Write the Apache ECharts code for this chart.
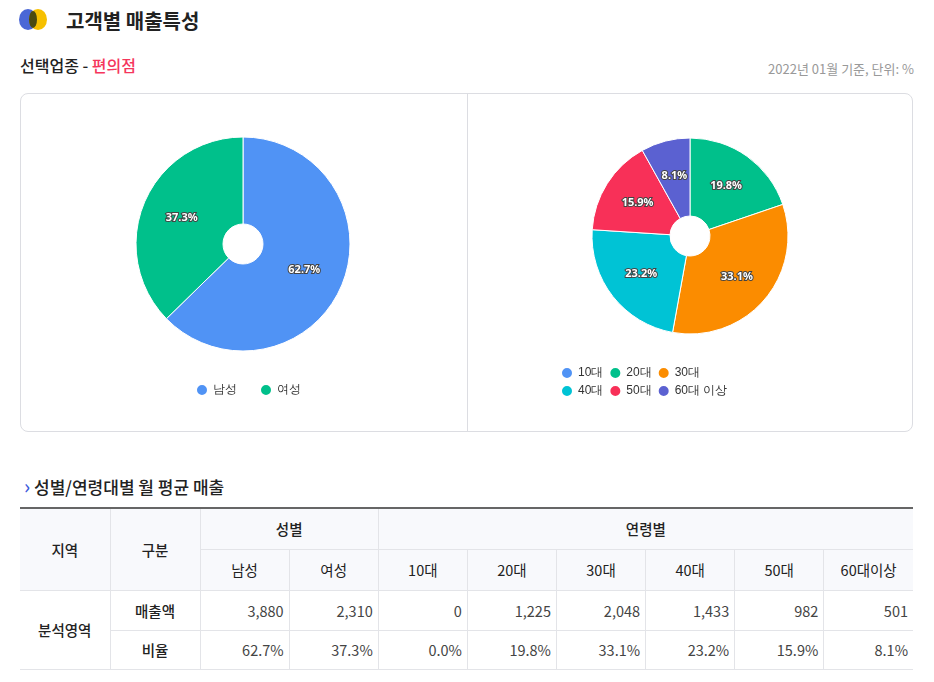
<!DOCTYPE html>
<html>
<head>
<meta charset="utf-8">
<title></title>
<script src="https://cdn.jsdelivr.net/npm/echarts@6/dist/echarts.min.js"></script>
<style>
  body { margin:0; width:934px; height:682px; font-family:"Noto Sans CJK KR","Noto Sans",sans-serif; color:#222; background:#fff; position:relative; overflow:hidden; }
  .abs { position:absolute; }
  #card { left:20px; top:93px; width:893px; height:339px; border:1px solid #dcdde2; border-radius:8px; box-sizing:border-box; }
  #main { left:20px; top:93px; width:893px; height:339px; }
  #divider { left:467px; top:94px; width:1px; height:337px; background:#dcdde2; }
  table { border-collapse:collapse; table-layout:fixed; font-size:14.5px; }
  td, th { border:1px solid #e3e4e8; text-align:center; padding:0 5px; }
  th { background:#f8f9fc; font-weight:500; }
  td.num { text-align:right; color:#444; }
  tr:first-child th { border-top:2px solid #666; }
  th:first-child, td:first-child { border-left:none; }
  th:last-child, td:last-child { border-right:none; }
</style>
</head>
<body>
<div class="abs" style="left:19px;top:9px;width:18px;height:21px;border-radius:50%;background:#4a67d6;"></div>
<div class="abs" style="left:29px;top:9px;width:18px;height:21px;border-radius:50%;background:#f6c000;"></div>
<div class="abs" style="left:29px;top:11px;width:8px;height:17px;border-radius:50%;background:#4a4a10;"></div>
<div class="abs" style="left:66px;top:6px;font-size:20px;font-weight:700;">고객별 매출특성</div>
<div class="abs" style="left:20px;top:53px;font-size:16px;font-weight:500;">선택업종 - <span style="color:#f5365c">편의점</span></div>
<div class="abs" style="right:20px;top:59px;font-size:13px;color:#999;">2022년 01월 기준, 단위: %</div>

<div id="card" class="abs"></div>
<div id="divider" class="abs"></div>
<div id="main" class="abs"></div>

<div class="abs" style="left:24px;top:471px;font-size:17px;font-weight:500;"><span style="color:#3b5bdb;font-size:20px;">›</span> 성별/연령대별 월 평균 매출</div>
<div class="abs" style="left:20px;top:507px;" id="tbl"></div>

<script>
var genderNames = ['남성', '여성'];
var genderValues = [62.7, 37.3];
var ageNames = ['10대', '20대', '30대', '40대', '50대', '60대 이상'];
var ageValues = [0.0, 19.8, 33.1, 23.2, 15.9, 8.1];
var ageHeads = ['10대', '20대', '30대', '40대', '50대', '60대이상'];
var salesGender = ['3,880', '2,310'];
var salesAge = ['0', '1,225', '2,048', '1,433', '982', '501'];
var ratioGender = ['62.7%', '37.3%'];
var ratioAge = ['0.0%', '19.8%', '33.1%', '23.2%', '15.9%', '8.1%'];

var colors = ['#5093f5', '#00c08b', '#fb8c00', '#00c3d5', '#f83058', '#5b61d1'];

var myChart = echarts.init(document.getElementById('main'));
var lbl = {
  show: true, position: 'inside', formatter: '{c}%',
  color: '#fff', fontSize: 11, fontWeight: 'bold',
  textBorderColor: '#444', textBorderWidth: 2, fontFamily: 'Noto Sans'
};
var legTxt = { fontSize: 12, color: '#333', width: 72 };
myChart.setOption({
  legend: [
    { data: genderNames, left: 170, top: 285, icon: 'circle', itemWidth: 12, itemHeight: 12, itemGap: 22,
      textStyle: { fontSize: 12, color: '#333' } },
    { data: ageNames.slice(0, 3), left: 535, top: 268, icon: 'circle', itemWidth: 12, itemHeight: 12, itemGap: 5,
      textStyle: legTxt },
    { data: ageNames.slice(3), left: 535, top: 286, icon: 'circle', itemWidth: 12, itemHeight: 12, itemGap: 5,
      textStyle: legTxt }
  ],
  series: [
    { name: '성별', type: 'pie', center: [223, 151], radius: [20, 107], startAngle: 90,
      itemStyle: { borderColor: '#fff', borderWidth: 1 }, label: lbl, labelLine: { show: false },
      data: genderNames.map(function (n, i) { return { name: n, value: genderValues[i], itemStyle: { color: colors[i] } }; }) },
    { name: '연령별', type: 'pie', center: [670, 143], radius: [20, 98], startAngle: 90,
      itemStyle: { borderColor: '#fff', borderWidth: 1 }, label: lbl, labelLine: { show: false },
      data: ageNames.map(function (n, i) { return { name: n, value: ageValues[i], itemStyle: { color: colors[i] } }; }) }
  ]
});

var h = '<table style="width:893px"><colgroup>';
for (var i = 0; i < 10; i++) h += '<col style="width:' + (i < 2 ? 90 : 89.1) + 'px">';
h += '</colgroup>';
h += '<tr style="height:41px"><th rowspan="2">지역</th><th rowspan="2">구분</th><th colspan="2">성별</th><th colspan="6">연령별</th></tr>';
h += '<tr style="height:41px">';
genderNames.concat(ageHeads).forEach(function (n) { h += '<th style="font-weight:400">' + n + '</th>'; });
h += '</tr>';
h += '<tr style="height:40px"><td rowspan="2" style="font-weight:500">분석영역</td><td style="font-weight:500">매출액</td>';
salesGender.concat(salesAge).forEach(function (v) { h += '<td class="num">' + v + '</td>'; });
h += '</tr><tr style="height:39px"><td style="font-weight:500">비율</td>';
ratioGender.concat(ratioAge).forEach(function (v) { h += '<td class="num">' + v + '</td>'; });
h += '</tr></table>';
document.getElementById('tbl').innerHTML = h;
</script>
</body>
</html>
